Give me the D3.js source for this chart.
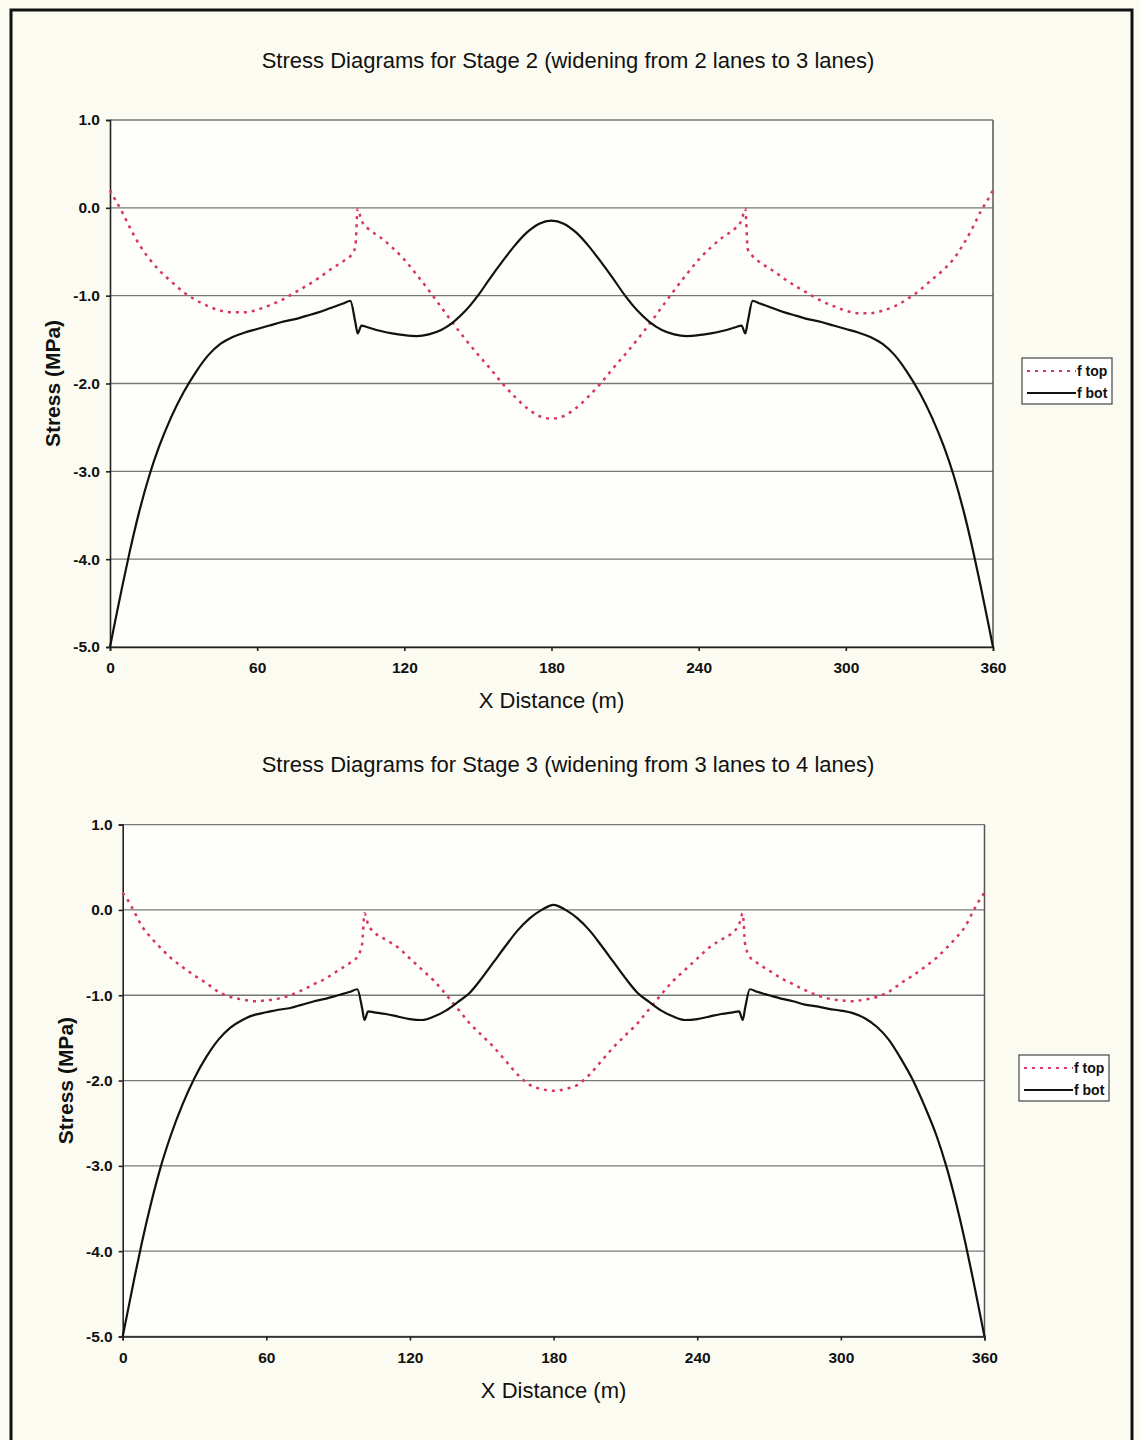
<!DOCTYPE html>
<html>
<head>
<meta charset="utf-8">
<script src="https://cdn.jsdelivr.net/npm/d3@7"></script>
<style>
body{margin:0;background:#fbfbf2;}
svg{display:block;font-family:Arial,"Liberation Sans",sans-serif;}
</style>
</head>
<body>
<svg id="page" width="1140" height="1440"></svg>
<script>
// stations along the bridge (m)
const stations = [0,2,5,8,12,16,20,25,30,35,40,45,50,55,60,65,70,75,80,85,90,95,98,100,101,102.5,105,110,115,120,125,130,135,140,145,150,155,160,165,170,175,
    180,
    185,190,195,200,205,210,215,220,225,230,235,240,245,250,255,257.5,259,260,262,265,270,275,280,285,290,295,300,305,310,315,320,325,330,335,340,344,348,352,355,358,360];

// stage 2 stresses (MPa)
const stage2Top = [0.20,0.10,-0.05,-0.22,-0.42,-0.58,-0.71,-0.84,-0.96,-1.05,-1.12,-1.17,-1.19,-1.19,-1.16,-1.11,-1.05,-0.97,-0.89,-0.80,-0.70,-0.61,-0.55,-0.45,-0.01,-0.14,-0.23,-0.33,-0.45,-0.59,-0.76,-0.94,-1.13,-1.32,-1.50,-1.67,-1.83,-2.00,-2.15,-2.28,-2.37,
    -2.40,
    -2.37,-2.28,-2.15,-2.00,-1.83,-1.67,-1.50,-1.32,-1.13,-0.94,-0.76,-0.59,-0.45,-0.33,-0.23,-0.14,-0.01,-0.47,-0.55,-0.62,-0.71,-0.81,-0.90,-0.98,-1.06,-1.12,-1.17,-1.20,-1.20,-1.17,-1.12,-1.04,-0.94,-0.82,-0.70,-0.58,-0.41,-0.21,-0.04,0.10,0.20];
const stage2Bot = [-5.00,-4.72,-4.31,-3.92,-3.45,-3.05,-2.72,-2.38,-2.10,-1.87,-1.68,-1.55,-1.47,-1.42,-1.38,-1.34,-1.30,-1.27,-1.23,-1.19,-1.14,-1.09,-1.06,-1.30,-1.43,-1.34,-1.36,-1.40,-1.43,-1.45,-1.46,-1.44,-1.39,-1.30,-1.17,-1.00,-0.80,-0.61,-0.43,-0.28,-0.18,
    -0.145,
    -0.18,-0.28,-0.43,-0.61,-0.80,-1.00,-1.17,-1.30,-1.39,-1.44,-1.46,-1.45,-1.43,-1.40,-1.36,-1.34,-1.43,-1.30,-1.06,-1.09,-1.14,-1.19,-1.23,-1.27,-1.30,-1.34,-1.38,-1.42,-1.47,-1.55,-1.68,-1.87,-2.10,-2.38,-2.72,-3.05,-3.45,-3.92,-4.31,-4.72,-5.00];

// stage 3 stresses (MPa)
const stage3Top = [0.20,0.12,-0.03,-0.19,-0.33,-0.45,-0.56,-0.67,-0.77,-0.86,-0.96,-1.02,-1.05,-1.07,-1.06,-1.04,-1.00,-0.94,-0.87,-0.80,-0.71,-0.62,-0.55,-0.40,-0.04,-0.17,-0.26,-0.35,-0.44,-0.57,-0.70,-0.83,-0.99,-1.16,-1.33,-1.47,-1.61,-1.77,-1.93,-2.05,-2.10,
    -2.12,
    -2.10,-2.05,-1.93,-1.77,-1.61,-1.47,-1.33,-1.16,-0.99,-0.83,-0.70,-0.57,-0.44,-0.35,-0.26,-0.17,-0.04,-0.40,-0.55,-0.62,-0.71,-0.80,-0.87,-0.94,-1.00,-1.04,-1.06,-1.07,-1.05,-1.02,-0.96,-0.86,-0.77,-0.67,-0.56,-0.45,-0.33,-0.19,-0.03,0.12,0.20];
const stage3Bot = [-5.00,-4.72,-4.30,-3.90,-3.42,-3.00,-2.65,-2.28,-1.97,-1.72,-1.52,-1.38,-1.29,-1.23,-1.20,-1.17,-1.15,-1.11,-1.07,-1.04,-1.00,-0.96,-0.93,-1.15,-1.29,-1.19,-1.20,-1.22,-1.25,-1.28,-1.29,-1.25,-1.18,-1.08,-0.97,-0.80,-0.61,-0.42,-0.24,-0.10,0.00,
    0.06,
    0.00,-0.10,-0.24,-0.42,-0.61,-0.80,-0.97,-1.08,-1.18,-1.25,-1.29,-1.28,-1.25,-1.22,-1.20,-1.19,-1.29,-1.15,-0.93,-0.96,-1.00,-1.04,-1.07,-1.11,-1.13,-1.16,-1.18,-1.21,-1.27,-1.37,-1.52,-1.74,-1.99,-2.30,-2.65,-3.00,-3.42,-3.90,-4.30,-4.72,-5.00];

const xTicks = [0,60,120,180,240,300,360];
const yTicks = [1,0,-1,-2,-3,-4,-5];
const seriesNames = ["f top","f bot"];
const chartTitles = ["Stress Diagrams for Stage 2 (widening from 2 lanes to 3 lanes)",
                     "Stress Diagrams for Stage 3 (widening from 3 lanes to 4 lanes)"];
const xTitle = "X Distance (m)";
const yTitle = "Stress (MPa)";

class StressChart{

    constructor(container, box, title, topValues, botValues){
	this.box = box;
	this.canvas = container.append("g");
	this.x = d3.scaleLinear().domain([0,360]).range([box.left,box.right]);
	this.y = d3.scaleLinear().domain([-5,1]).range([box.bottom,box.top]);
	this.title = title;
	this.topValues = topValues;
	this.botValues = botValues;
    }

    draw(){
	var b = this.box, x = this.x, y = this.y, g = this.canvas;

	g.append("rect")
	    .attr("x",b.left).attr("y",b.top)
	    .attr("width",b.right-b.left).attr("height",b.bottom-b.top)
	    .attr("fill","#fefefb");

	//gridlines
	g.append("g").selectAll("line").data(yTicks).enter()
	    .append("line")
	    .attr("x1",b.left).attr("x2",b.right)
	    .attr("y1",d => y(d)).attr("y2",d => y(d))
	    .attr("stroke","#777").attr("stroke-width",1.3);
	g.append("line")
	    .attr("x1",b.right).attr("x2",b.right).attr("y1",b.top).attr("y2",b.bottom)
	    .attr("stroke","#555").attr("stroke-width",1.5);

	//axes
	var yAxis = g.append("g")
	    .attr("transform","translate("+b.left+",0)")
	    .call(d3.axisLeft(y).tickValues(yTicks).tickSize(4).tickPadding(6).tickFormat(d => d.toFixed(1)));
	var xAxis = g.append("g")
	    .attr("transform","translate(0,"+b.bottom+")")
	    .call(d3.axisBottom(x).tickValues(xTicks).tickSize(4).tickPadding(11).tickFormat(d => d));
	[xAxis,yAxis].forEach(function(a){
	    a.selectAll("path,line").attr("stroke","#222").attr("stroke-width",1.6);
	    a.selectAll("text").attr("fill","#111").style("font-size","15.5px").style("font-weight","bold")
		.style("font-family","Arial, 'Liberation Sans', sans-serif");
	});

	//series
	var line = d3.line()
	    .x((d,i) => x(stations[i]))
	    .y(d => y(d))
	    .curve(d3.curveMonotoneX);
	g.append("path").datum(this.topValues)
	    .attr("d",line).attr("fill","none")
	    .attr("stroke","#d8365f").attr("stroke-width",2.5)
	    .attr("stroke-dasharray","3,5");
	g.append("path").datum(this.botValues)
	    .attr("d",line).attr("fill","none")
	    .attr("stroke","#111").attr("stroke-width",2.2);

	//titles
	g.append("text").attr("x",568).attr("y",b.titleY)
	    .attr("text-anchor","middle").style("font-size","22px").attr("fill","#111")
	    .text(this.title);
	g.append("text").attr("x",(b.left+b.right)/2).attr("y",b.bottom+61)
	    .attr("text-anchor","middle").style("font-size","22px").attr("fill","#111")
	    .text(xTitle);
	g.append("text")
	    .attr("transform","translate("+b.yTitleX+","+((b.top+b.bottom)/2)+") rotate(-90)")
	    .attr("text-anchor","middle").style("font-size","21px").style("font-weight","bold").attr("fill","#111")
	    .text(yTitle);

	//legend
	var lg = g.append("g").attr("transform","translate("+b.legendX+","+b.legendY+")");
	lg.append("rect").attr("width",90).attr("height",46)
	    .attr("fill","#fff").attr("stroke","#444").attr("stroke-width",1.2);
	var styles = [{stroke:"#d8365f",dash:"3,5"},{stroke:"#111",dash:null}];
	seriesNames.forEach(function(name,i){
	    var yy = 13 + i*22;
	    lg.append("line").attr("x1",5).attr("x2",54).attr("y1",yy).attr("y2",yy)
		.attr("stroke",styles[i].stroke).attr("stroke-width",2)
		.attr("stroke-dasharray",styles[i].dash);
	    lg.append("text").attr("x",55).attr("y",yy).attr("dy","0.35em")
		.style("font-size","14px").style("font-weight","bold").attr("fill","#111")
		.text(name);
	});
    }
}

var svg = d3.select("#page");

//outer frame
svg.append("path")
    .attr("d","M11,1445 L11,10 L1132,10 L1132,1445")
    .attr("fill","none").attr("stroke","#111").attr("stroke-width",3);

var chart1 = new StressChart(svg,
    {left:110,right:993,top:120,bottom:647,titleY:68,yTitleX:60,legendX:1022,legendY:358},
    chartTitles[0], stage2Top, stage2Bot);
chart1.draw();

var chart2 = new StressChart(svg,
    {left:122.7,right:984.5,top:824.6,bottom:1336.5,titleY:772,yTitleX:73,legendX:1019,legendY:1055},
    chartTitles[1], stage3Top, stage3Bot);
chart2.draw();
</script>
</body>
</html>
